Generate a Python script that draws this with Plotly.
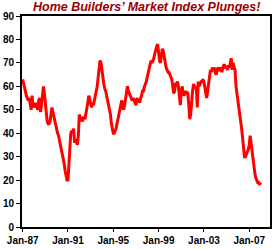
import plotly.graph_objects as go
import pandas as pd

start_month = "1987-01-01"
hmi_1987 = [63, 61, 60, 57, 56, 55, 54, 55, 53, 50, 56, 51]
hmi_1988 = [52, 51, 53, 51, 50, 54, 55, 49, 53, 57, 60, 57]
hmi_1989 = [53, 48, 45, 44, 44, 45, 48, 51, 49, 47, 45, 44]
hmi_1990 = [42, 40, 39, 37, 35, 33, 31, 30, 27, 24, 22, 20]
hmi_1991 = [20, 27, 35, 40, 41, 40, 42, 36, 37, 37, 35, 39]
hmi_1992 = [48, 46, 47, 45, 46, 47, 46, 48, 50, 53, 56, 54]
hmi_1993 = [52, 51, 53, 52, 54, 56, 58, 60, 64, 67, 71, 70]
hmi_1994 = [66, 62, 61, 59, 58, 56, 54, 53, 50, 48, 44, 42]
hmi_1995 = [40, 40, 41, 42, 44, 46, 47, 49, 52, 54, 51, 50]
hmi_1996 = [52, 55, 58, 60, 58, 57, 56, 55, 54, 55, 54, 53]
hmi_1997 = [52, 55, 54, 54, 53, 55, 56, 58, 58, 60, 61, 62]
hmi_1998 = [64, 66, 68, 70, 71, 70, 71, 72, 74, 76, 77, 78]
hmi_1999 = [73, 71, 70, 74, 76, 75, 72, 69, 68, 67, 66, 66]
hmi_2000 = [65, 64, 63, 60, 57, 58, 61, 61, 62, 60, 56, 52]
hmi_2001 = [58, 60, 57, 56, 57, 58, 57, 57, 52, 46, 48, 54]
hmi_2002 = [58, 61, 60, 59, 60, 51, 62, 60, 61, 62, 62, 63]
hmi_2003 = [62, 60, 58, 55, 58, 61, 64, 67, 66, 68, 67, 68]
hmi_2004 = [66, 65, 67, 68, 67, 67, 68, 66, 68, 69, 69, 68]
hmi_2005 = [68, 67, 69, 68, 70, 72, 67, 70, 68, 67, 60, 57]
hmi_2006 = [56, 53, 49, 45, 42, 38, 34, 30, 30, 31, 32, 33]
hmi_2007 = [35, 39, 36, 32, 29, 27, 23, 21, 20, 19, 19, 18]
hmi_2008 = [19]

values = (hmi_1987 + hmi_1988 + hmi_1989 + hmi_1990 + hmi_1991 + hmi_1992 +
          hmi_1993 + hmi_1994 + hmi_1995 + hmi_1996 + hmi_1997 + hmi_1998 +
          hmi_1999 + hmi_2000 + hmi_2001 + hmi_2002 + hmi_2003 + hmi_2004 +
          hmi_2005 + hmi_2006 + hmi_2007 + hmi_2008)
dates = pd.date_range(start_month, periods=len(values), freq="MS")

tick_dates = ["1987-01-01", "1991-01-01", "1995-01-01", "1999-01-01", "2003-01-01", "2007-01-01"]
tick_labels = ["Jan-87", "Jan-91", "Jan-95", "Jan-99", "Jan-03", "Jan-07"]
y_ticks = [0, 10, 20, 30, 40, 50, 60, 70, 80, 90]

title_text = "Home Builders\u2019 Market Index Plunges!"

fig = go.Figure()
fig.add_trace(go.Scatter(x=dates, y=values, mode="lines",
                         line=dict(color="#ff0000", width=3), showlegend=False))

fig.update_layout(
    width=275, height=249,
    margin=dict(l=20, r=3, t=16, b=19),
    paper_bgcolor="white", plot_bgcolor="white",
    font=dict(family="Liberation Sans", size=10, color="black"),
)
fig.add_annotation(text="<b><i>" + title_text + "</i></b>",
                   font=dict(family="Liberation Sans", size=12.5, color="#990000"),
                   xref="paper", yref="paper", x=0.5, xanchor="center",
                   y=1, yanchor="bottom", yshift=1, showarrow=False,
                   borderpad=0)
fig.update_xaxes(type="date", range=["1986-12-10", "2008-11-01"],
                 tickvals=tick_dates, ticktext=tick_labels,
                 tickfont=dict(family="Liberation Sans", size=10, color="black", weight="bold"),
                 ticks="outside", ticklen=3, tickwidth=1, tickcolor="black",
                 showline=True, linecolor="black", linewidth=2, mirror=True,
                 showgrid=False, zeroline=False)
fig.update_yaxes(range=[0, 90], tickvals=y_ticks,
                 tickfont=dict(family="Liberation Sans", size=10, color="black", weight="bold"),
                 ticks="outside", ticklen=4, tickwidth=1, tickcolor="black",
                 showline=True, linecolor="black", linewidth=2, mirror=True,
                 showgrid=False, zeroline=False)

fig.write_html("out.html")
